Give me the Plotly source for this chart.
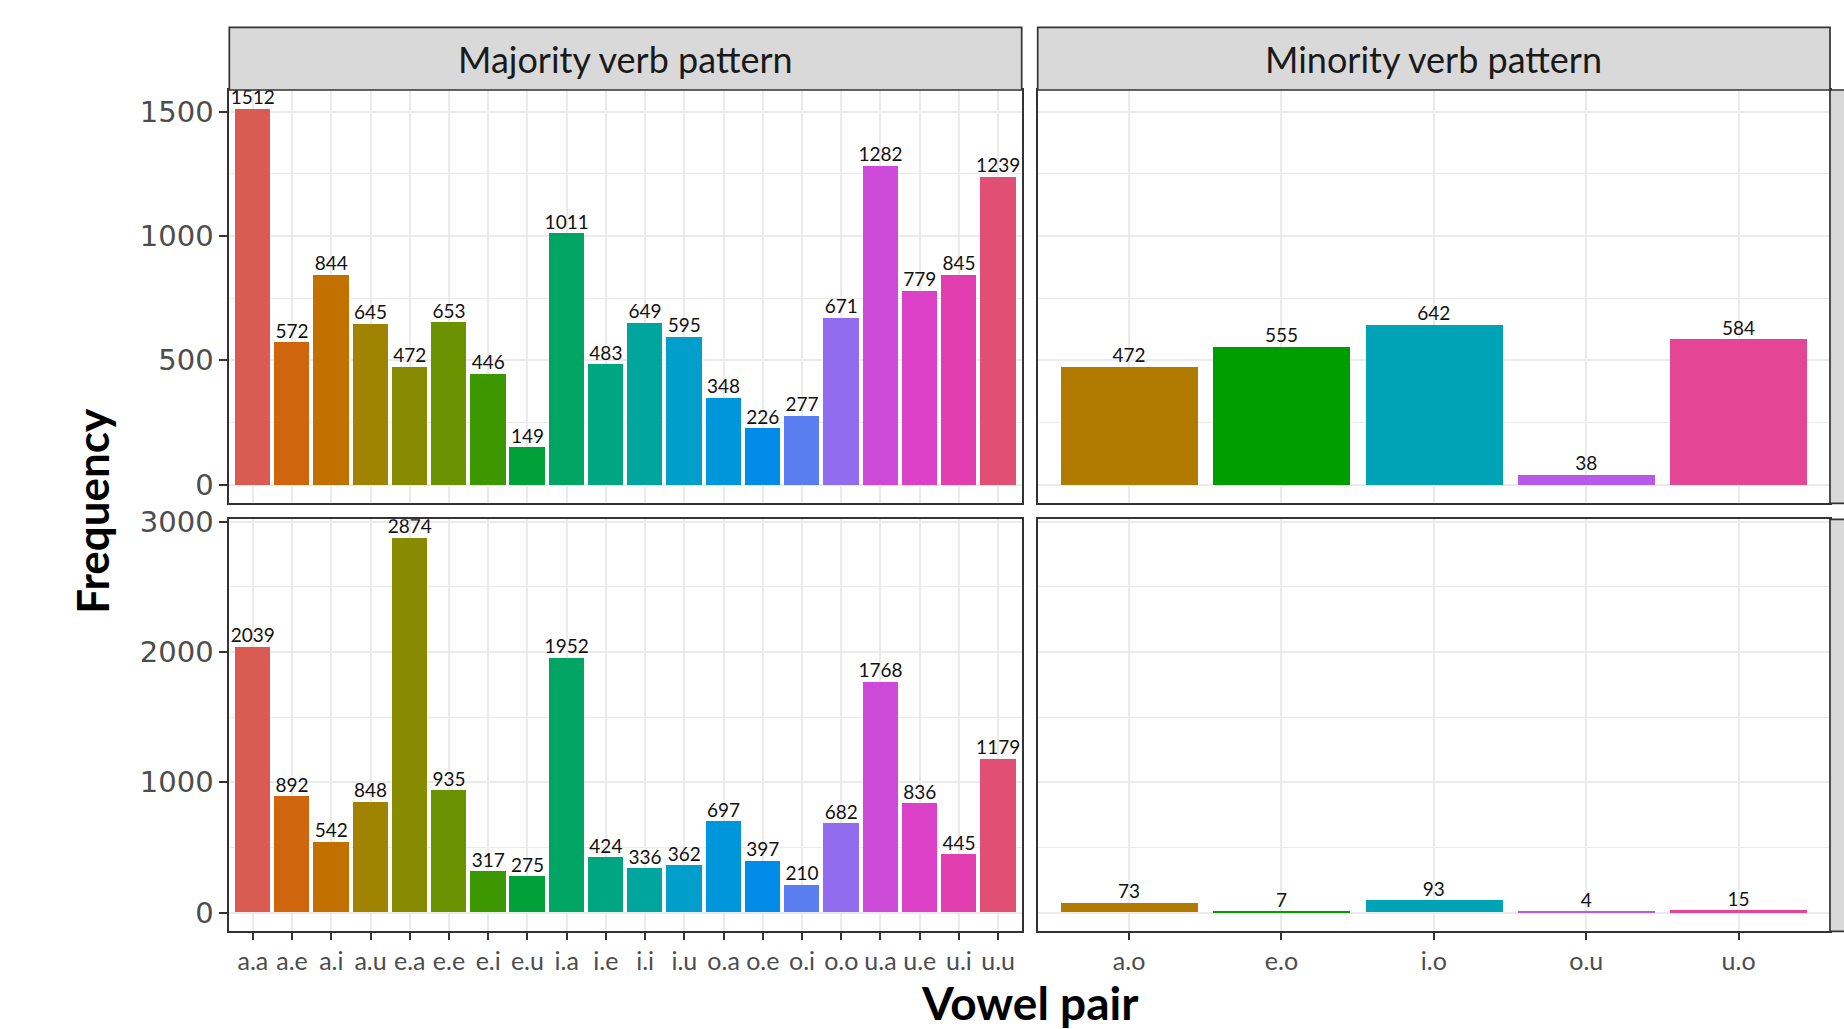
import math
import plotly.graph_objects as go

# ---------------- data ----------------
maj_pairs = ["a.a", "a.e", "a.i", "a.u", "e.a", "e.e", "e.i", "e.u", "i.a", "i.e",
             "i.i", "i.u", "o.a", "o.e", "o.i", "o.o", "u.a", "u.e", "u.i", "u.u"]
min_pairs = ["a.o", "e.o", "i.o", "o.u", "u.o"]

row1_majority = [1512, 572, 844, 645, 472, 653, 446, 149, 1011, 483,
                 649, 595, 348, 226, 277, 671, 1282, 779, 845, 1239]
row1_minority = [472, 555, 642, 38, 584]
row2_majority = [2039, 892, 542, 848, 2874, 935, 317, 275, 1952, 424,
                 336, 362, 697, 397, 210, 682, 1768, 836, 445, 1179]
row2_minority = [73, 7, 93, 4, 15]

col_labels = ["Majority verb pattern", "Minority verb pattern"]
row1_ticks = [0, 500, 1000, 1500]
row2_ticks = [0, 1000, 2000, 3000]

# ---------------- colours (ggplot-like hue palette) ----------------
def hcl_hex(h, c, l):
    hr = math.radians(h)
    U, V = c * math.cos(hr), c * math.sin(hr)
    Y = ((l + 16) / 116) ** 3 if l > 8 else l / 903.3
    Xn, Yn, Zn = 0.95047, 1.0, 1.08883
    den = Xn + 15 * Yn + 3 * Zn
    un, vn = 4 * Xn / den, 9 * Yn / den
    u = U / (13 * l) + un
    v = V / (13 * l) + vn
    X = 9 * Y * u / (4 * v)
    Z = Y * (12 - 3 * u - 20 * v) / (4 * v)
    r = 3.240479 * X - 1.537150 * Y - 0.498535 * Z
    g = -0.969256 * X + 1.875992 * Y + 0.041556 * Z
    b = 0.055648 * X - 0.204043 * Y + 1.057311 * Z
    def gam(t):
        t = 12.92 * t if t <= 0.0031308 else 1.055 * t ** (1 / 2.4) - 0.055
        return max(0, min(255, round(t * 255)))
    return "#%02X%02X%02X" % (gam(r), gam(g), gam(b))

all_pairs = sorted(maj_pairs + min_pairs)
n = len(all_pairs)
palette = {p: hcl_hex(15 + 360 * i / n, 100, 55) for i, p in enumerate(all_pairs)}

# ---------------- geometry (pixels) ----------------
W, H = 1844, 1029
def px_x(x): return x / W
def px_y(y): return 1 - y / H

colL = (229.3, 1021.7)
colR = (1037.7, 1830.0)
rowT = (90.0, 503.3)
rowB = (519.3, 931.3)
strip_top = 27.3

BORDER = "#333333"
GRID = "#EBEBEB"
TICKC = "#4D4D4D"
LABEL_FONT = "Lato"

fig = go.Figure()

panels = [
    ("x", "y", maj_pairs, row1_majority),
    ("x2", "y2", min_pairs, row1_minority),
    ("x3", "y3", maj_pairs, row2_majority),
    ("x4", "y4", min_pairs, row2_minority),
]
for xa, ya, cats, vals in panels:
    fig.add_trace(go.Bar(
        x=cats, y=vals, xaxis=xa, yaxis=ya, width=0.9,
        marker=dict(color=[palette[c] for c in cats], line=dict(width=0)),
        showlegend=False, hoverinfo="x+y",
    ))
    fig.add_trace(go.Scatter(
        x=cats, y=vals, xaxis=xa, yaxis=ya, mode="text",
        text=[str(v) for v in vals], textposition="top center",
        textfont=dict(family=LABEL_FONT, size=19, color="#111111"),
        cliponaxis=True, showlegend=False, hoverinfo="skip",
    ))

top_max = max(row1_majority + row1_minority)
bot_max = max(row2_majority + row2_minority)
rng_top = [-0.05 * top_max, 1.05 * top_max]
rng_bot = [-0.05 * bot_max, 1.05 * bot_max]

def xaxis(dom, cats, anchor, show):
    return dict(
        domain=[px_x(dom[0]), px_x(dom[1])], anchor=anchor,
        type="category", categoryorder="array", categoryarray=cats,
        range=[-0.6, len(cats) - 0.4], automargin=False,
        showgrid=True, gridcolor=GRID, gridwidth=2.3,
        showline=True, linecolor=BORDER, linewidth=1.7, mirror=True,
        ticks="outside" if show else "", ticklen=7, tickwidth=1.6, tickcolor=BORDER,
        showticklabels=show,
        tickfont=dict(family=LABEL_FONT, size=25, color=TICKC),
        zeroline=False, fixedrange=True,
    )

def yaxis(dom, rng, ticks, anchor, show):
    step = ticks[1] - ticks[0]
    return dict(
        domain=[px_y(dom[1]), px_y(dom[0])], anchor=anchor,
        range=rng, tickmode="array", tickvals=ticks, automargin=False,
        ticktext=[str(t) for t in ticks],
        showgrid=True, gridcolor=GRID, gridwidth=2.3,
        minor=dict(tickmode="array",
                   tickvals=[t + step / 2 for t in ticks],
                   showgrid=True, gridcolor=GRID, gridwidth=1.3, ticks=""),
        showline=True, linecolor=BORDER, linewidth=1.7, mirror=True,
        ticks="outside" if show else "", ticklen=8, tickwidth=1.6, tickcolor=BORDER,
        showticklabels=show,
        tickfont=dict(family="DejaVu Sans", size=29, color=TICKC),
        zeroline=False, fixedrange=True,
    )

fig.update_layout(
    template="none",
    width=W, height=H, autosize=False,
    margin=dict(l=0, r=0, t=0, b=0, pad=0, autoexpand=False),
    paper_bgcolor="white", plot_bgcolor="white",
    showlegend=False,
    bargap=0,
    xaxis=xaxis(colL, maj_pairs, "y", False),
    xaxis2=xaxis(colR, min_pairs, "y2", False),
    xaxis3=xaxis(colL, maj_pairs, "y3", True),
    xaxis4=xaxis(colR, min_pairs, "y4", True),
    yaxis=yaxis(rowT, rng_top, row1_ticks, "x", True),
    yaxis2=yaxis(rowT, rng_top, row1_ticks, "x2", False),
    yaxis3=yaxis(rowB, rng_bot, row2_ticks, "x3", True),
    yaxis4=yaxis(rowB, rng_bot, row2_ticks, "x4", False),
)

shapes = []
annotations = []
# column strips
for dom, lab in zip([colL, colR], col_labels):
    shapes.append(dict(type="rect", xref="paper", yref="paper",
                       x0=px_x(dom[0]), x1=px_x(dom[1]),
                       y0=px_y(rowT[0]), y1=px_y(strip_top),
                       fillcolor="#D9D9D9", line=dict(color=BORDER, width=1.7),
                       layer="above"))
    annotations.append(dict(xref="paper", yref="paper",
                            x=px_x((dom[0] + dom[1]) / 2),
                            y=px_y((strip_top + rowT[0]) / 2),
                            text=lab, showarrow=False,
                            xanchor="center", yanchor="middle",
                            font=dict(family=LABEL_FONT, size=36, color="#1A1A1A")))
# row strips (cut off at the right edge)
for dom in [rowT, rowB]:
    shapes.append(dict(type="rect", xref="paper", yref="paper",
                       x0=px_x(colR[1]), x1=px_x(colR[1] + 60),
                       y0=px_y(dom[1]), y1=px_y(dom[0]),
                       fillcolor="#D9D9D9", line=dict(color=BORDER, width=1.7),
                       layer="above"))

annotations.append(dict(xref="paper", yref="paper",
                        x=px_x((colL[0] + colR[1]) / 2), y=px_y(1002),
                        text="<b>Vowel pair</b>", showarrow=False,
                        xanchor="center", yanchor="middle",
                        font=dict(family=LABEL_FONT, size=46, color="black")))
annotations.append(dict(xref="paper", yref="paper",
                        x=px_x(92), y=px_y((rowT[0] + rowB[1]) / 2),
                        text="<b>Frequency</b>", showarrow=False, textangle=-90,
                        xanchor="center", yanchor="middle",
                        font=dict(family=LABEL_FONT, size=44, color="black")))

fig.update_layout(shapes=shapes, annotations=annotations)
fig.write_html(
    "out.html",
    config={"displayModeBar": False},
    post_script="document.body.style.margin='0';document.body.style.overflow='hidden';",
)
